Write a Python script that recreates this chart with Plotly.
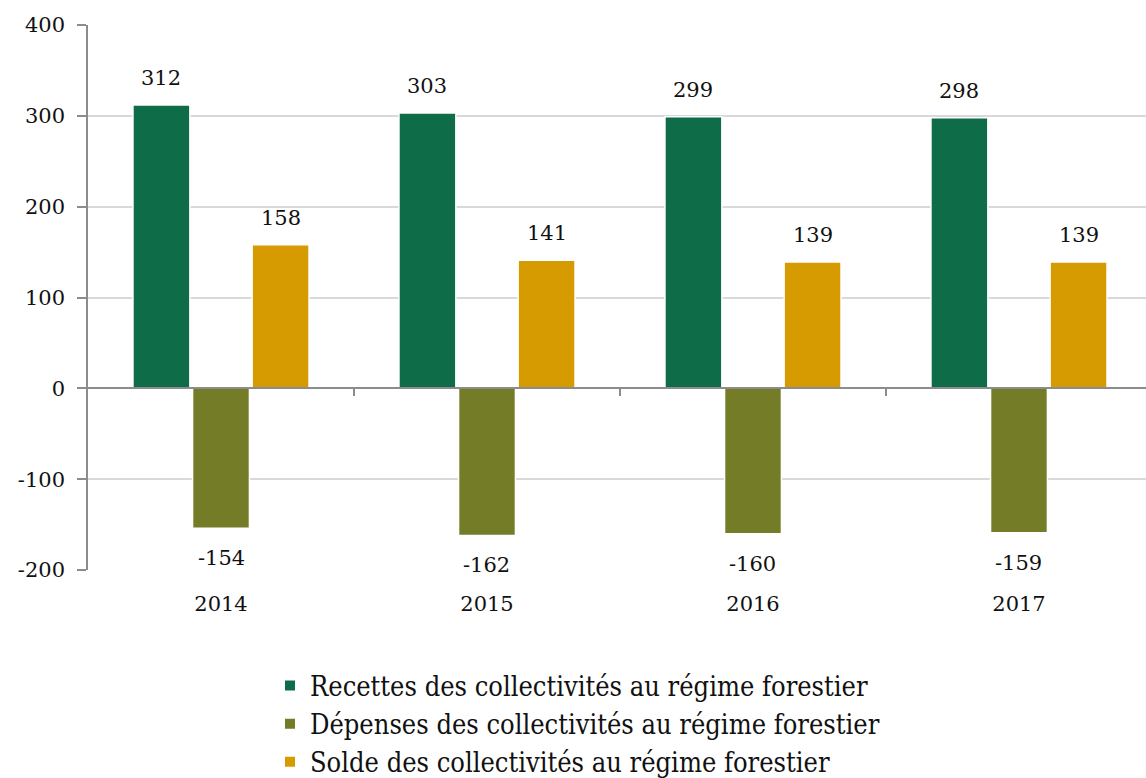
import plotly.graph_objects as go

# Collectivités au régime forestier, in millions of euros
years = ["2014", "2015", "2016", "2017"]
recettes = [312, 303, 299, 298]
depenses = [-154, -162, -160, -159]
solde = [158, 141, 139, 139]

y_tick_values = [-200, -100, 0, 100, 200, 300, 400]
y_tick_labels = ["-200", "-100", "0", "100", "200", "300", "400"]

series = [
    ("Recettes des collectivités au régime forestier", recettes, "#0E6C48"),
    ("Dépenses des collectivités au régime forestier", depenses, "#757C28"),
    ("Solde des collectivités au régime forestier", solde, "#D69B00"),
]

Y_MIN, Y_MAX = -200, 400
BARGAP = 0.328
BARGROUPGAP = 0.045
X_RANGE = [-0.5, 3.4775]
AXIS_GREY = "#8C8C8C"
GRID_GREY = "#D9D9D9"
NUM_FONT = dict(family="DejaVu Serif", size=21, color="#111111")

fig = go.Figure()
for name, values, color in series:
    fig.add_trace(go.Bar(
        x=years, y=values, name=name,
        marker=dict(color=color, line=dict(color="white", width=1.5)),
    ))

# invisible trace carrying the secondary x-axis used as the zero baseline
fig.add_trace(go.Scatter(x=[0], y=[0], xaxis="x2", mode="markers",
                         marker=dict(opacity=0), showlegend=False, hoverinfo="skip"))

# value labels placed relative to each bar's end
slot = (1 - BARGAP) / len(series)
annotations = []
for j, (name, values, color) in enumerate(series):
    for i, v in enumerate(values):
        annotations.append(dict(
            x=i + (j - 1) * slot, y=v, xref="x", yref="y",
            text=str(v), showarrow=False, font=NUM_FONT,
            yanchor="middle", yshift=27 if v >= 0 else -30,
        ))

fig.update_layout(
    width=1146, height=778,
    margin=dict(l=88, r=0, t=25, b=208, autoexpand=False),
    paper_bgcolor="white", plot_bgcolor="white",
    barmode="group", bargap=BARGAP, bargroupgap=BARGROUPGAP,
    font=NUM_FONT,
    showlegend=True,
    legend=dict(
        orientation="v", x=0.172, xanchor="left", y=-0.168, yanchor="top",
        font=dict(family="DejaVu Serif Condensed", size=27, color="#111111"),
        itemsizing="constant", tracegroupgap=0, traceorder="normal",
    ),
    annotations=annotations,
    xaxis=dict(
        type="category", range=X_RANGE, showgrid=False, zeroline=False,
        showline=False, ticks="", ticklabelstandoff=19, tickfont=NUM_FONT,
    ),
    xaxis2=dict(
        overlaying="x", anchor="free", position=(0 - Y_MIN) / (Y_MAX - Y_MIN),
        range=X_RANGE, showgrid=False, zeroline=False,
        showline=True, linecolor=AXIS_GREY, linewidth=1.5,
        ticks="outside", ticklen=7, tickwidth=1.5, tickcolor=AXIS_GREY,
        tickmode="array", tickvals=[0.5, 1.5, 2.5], showticklabels=False,
    ),
    yaxis=dict(
        range=[Y_MIN, Y_MAX], tickmode="array",
        tickvals=y_tick_values, ticktext=y_tick_labels,
        showgrid=True, gridcolor=GRID_GREY, gridwidth=1.5,
        zeroline=False, showline=True, linecolor=AXIS_GREY, linewidth=1.5,
        ticks="outside", ticklen=9, tickwidth=1.5, tickcolor=AXIS_GREY,
        ticklabelstandoff=8, tickfont=NUM_FONT,
    ),
)

fig.write_html("out.html")
